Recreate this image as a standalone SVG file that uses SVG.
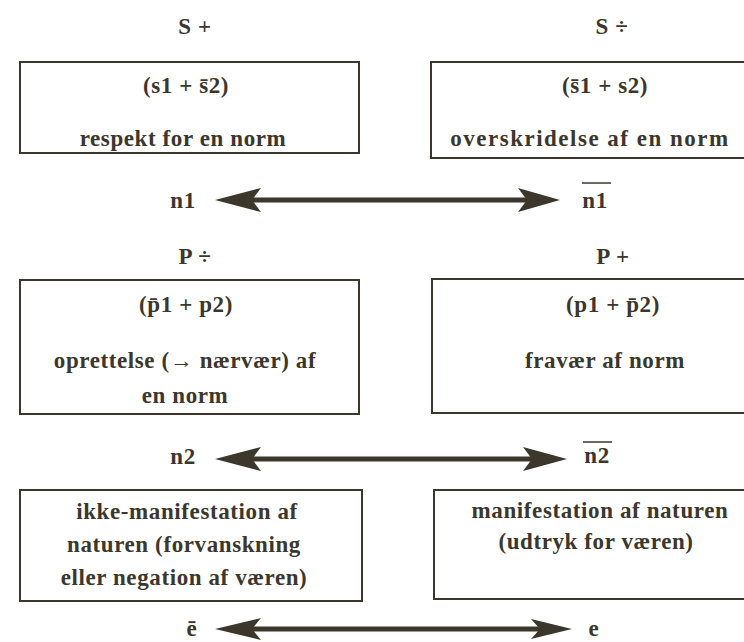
<svg xmlns="http://www.w3.org/2000/svg" width="744" height="642" viewBox="0 0 744 642">
<style>
text{font-family:"Liberation Serif","Times New Roman",serif;font-size:23px;fill:#3b372c;text-anchor:middle;font-weight:bold;letter-spacing:0.6px}
.box{fill:none;stroke:#3b372c;stroke-width:2}
.conn{stroke:#3b372c;stroke-width:5;fill:none}
.head{fill:#3b372c}
.bar{stroke:#3b372c;stroke-width:1.5}
</style>
<rect width="744" height="642" fill="#ffffff"/>
<g id="label-splus"><text x="195" y="34">S +</text></g>
<g id="label-sdiv"><text x="612" y="34">S ÷</text></g>
<g id="node-s-plus">
<rect class="box" x="20" y="62" width="339" height="91"/>
<text x="186" y="93">(s1 + s̄2)</text>
<text x="183" y="146">respekt for en norm</text>
</g>
<g id="node-s-div">
<rect class="box" x="431" y="62" width="320" height="96"/>
<text x="605" y="93">(s̄1 + s2)</text>
<text x="590" y="146" style="letter-spacing:1.5px">overskridelse af en norm</text>
</g>
<g id="label-n1"><text x="183" y="208">n1</text></g>
<g id="label-n1bar"><text x="595" y="208">n1</text><line class="bar" x1="582" y1="183" x2="611" y2="183"/></g>
<g id="label-pdiv"><text x="195" y="264">P ÷</text></g>
<g id="label-pplus"><text x="613" y="264">P +</text></g>
<g id="node-p-div">
<rect class="box" x="20" y="280" width="339" height="134"/>
<text x="186" y="312">(p̄1 + p2)</text>
<text x="185" y="368">oprettelse (→ nærvær) af</text>
<text x="185" y="403">en norm</text>
</g>
<g id="node-p-plus">
<rect class="box" x="432" y="279" width="320" height="134"/>
<text x="613" y="312">(p1 + p̄2)</text>
<text x="605" y="368">fravær af norm</text>
</g>
<g id="label-n2"><text x="183" y="464">n2</text></g>
<g id="label-n2bar"><text x="597" y="463">n2</text><line class="bar" x1="583" y1="442" x2="612" y2="442"/></g>
<g id="node-e-bar">
<rect class="box" x="20" y="490" width="342" height="111"/>
<text x="187" y="519">ikke-manifestation af</text>
<text x="184" y="552">naturen (forvanskning</text>
<text x="184" y="585">eller negation af væren)</text>
</g>
<g id="node-e">
<rect class="box" x="434" y="490" width="318" height="109"/>
<text x="600" y="518">manifestation af naturen</text>
<text x="596" y="549">(udtryk for væren)</text>
</g>
<g id="label-ebar"><text x="192" y="636">ē</text></g>
<g id="label-e"><text x="594" y="636">e</text></g>
<g id="connectors">
<line class="conn" x1="250" y1="200" x2="530" y2="200"/>
<polygon class="head" points="215,200 261,188 252,200 261,212"/>
<polygon class="head" points="560,200 518,188 527,200 518,212"/>
<line class="conn" x1="250" y1="459" x2="535" y2="459"/>
<polygon class="head" points="215,459 261,447 252,459 261,471"/>
<polygon class="head" points="567,459 523,447 532,459 523,471"/>
<line class="conn" x1="250" y1="629" x2="540" y2="629"/>
<polygon class="head" points="215,629 261,618 252,629 261,640"/>
<polygon class="head" points="572,629 531,619 540,629 531,639"/>
</g>
</svg>
